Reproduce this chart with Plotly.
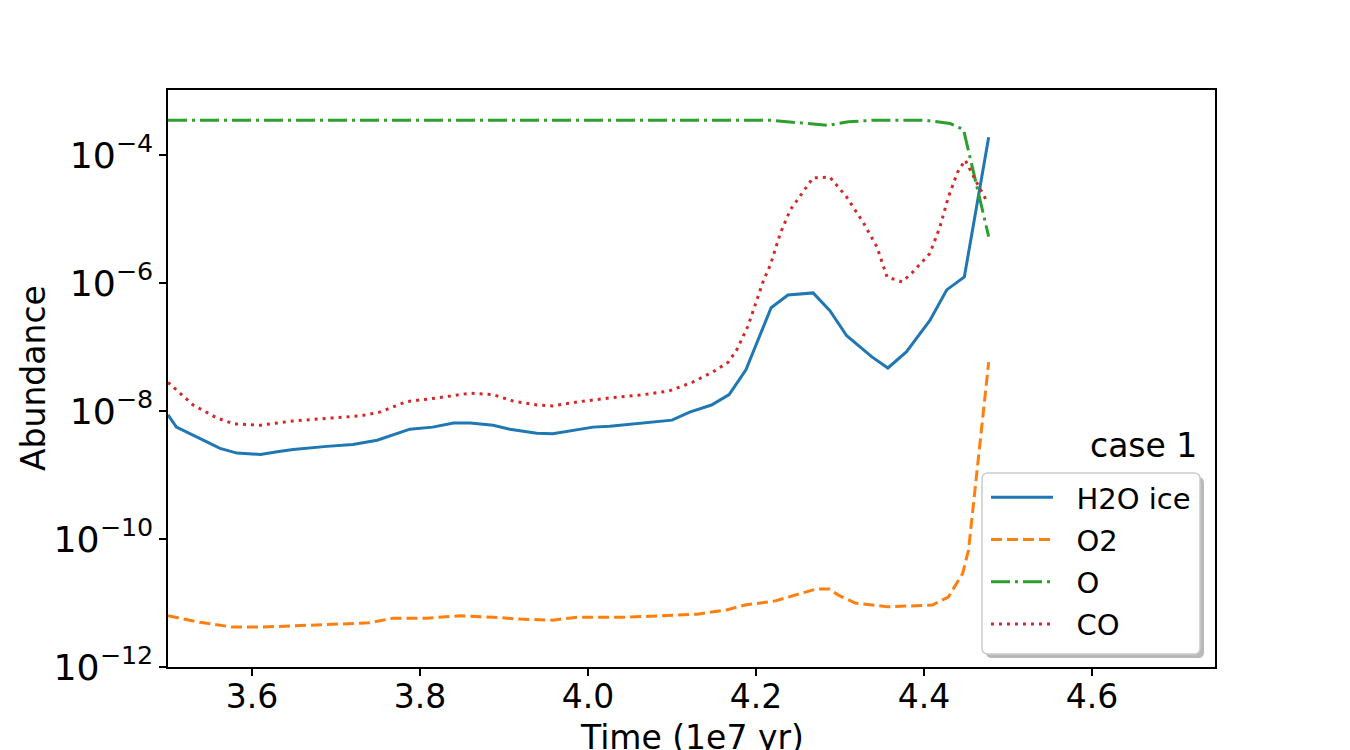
import plotly.graph_objects as go

# ---------------- data ----------------
t_h2o = [3.500, 3.510, 3.542, 3.562, 3.582, 3.610, 3.630, 3.649, 3.689, 3.720,
         3.749, 3.788, 3.815, 3.840, 3.860, 3.887, 3.907, 3.939, 3.958, 3.982,
         4.006, 4.026, 4.060, 4.100, 4.121, 4.147, 4.168, 4.188, 4.218, 4.238,
         4.268, 4.288, 4.308, 4.338, 4.357, 4.379, 4.407, 4.427, 4.448, 4.477]
h2o_ice = [8.7e-9, 5.6e-9, 3.5e-9, 2.6e-9, 2.2e-9, 2.1e-9, 2.3e-9, 2.5e-9, 2.8e-9, 3.0e-9,
           3.5e-9, 5.2e-9, 5.6e-9, 6.5e-9, 6.5e-9, 6.0e-9, 5.2e-9, 4.5e-9, 4.4e-9, 4.9e-9,
           5.6e-9, 5.8e-9, 6.4e-9, 7.2e-9, 9.6e-9, 1.24e-8, 1.8e-8, 4.4e-8, 4.1e-7, 6.5e-7,
           7.0e-7, 3.7e-7, 1.5e-7, 7.0e-8, 4.7e-8, 8.4e-8, 2.6e-7, 7.8e-7, 1.24e-6, 1.9e-4]

t_o2 = [3.500, 3.538, 3.577, 3.610, 3.669, 3.740, 3.768, 3.808, 3.848, 3.887,
        3.919, 3.958, 3.987, 4.046, 4.086, 4.130, 4.165, 4.187, 4.222, 4.248,
        4.272, 4.287, 4.298, 4.318, 4.357, 4.410, 4.429, 4.446, 4.453, 4.477]
o2 = [6.3e-12, 5.0e-12, 4.2e-12, 4.2e-12, 4.5e-12, 4.9e-12, 5.8e-12, 5.8e-12, 6.3e-12, 6.0e-12,
      5.6e-12, 5.4e-12, 6.0e-12, 6.0e-12, 6.3e-12, 6.7e-12, 7.8e-12, 9.3e-12, 1.07e-11, 1.33e-11,
      1.66e-11, 1.66e-11, 1.33e-11, 1.0e-11, 8.7e-12, 9.3e-12, 1.24e-11, 2.9e-11, 6.7e-11, 5.8e-8]

t_o = [3.50, 3.60, 3.70, 3.80, 3.90, 4.00, 4.10, 4.20, 4.217, 4.250,
       4.285, 4.310, 4.340, 4.401, 4.431, 4.447, 4.477]
o = [3.5e-4, 3.5e-4, 3.5e-4, 3.5e-4, 3.5e-4, 3.5e-4, 3.5e-4, 3.5e-4, 3.5e-4, 3.2e-4,
     2.9e-4, 3.3e-4, 3.5e-4, 3.5e-4, 3.1e-4, 2.5e-4, 5.3e-6]

t_co = [3.500, 3.530, 3.558, 3.578, 3.610, 3.649, 3.696, 3.729, 3.752, 3.784,
        3.820, 3.860, 3.887, 3.911, 3.939, 3.958, 3.990, 4.026, 4.066, 4.096,
        4.124, 4.149, 4.167, 4.177, 4.190, 4.199, 4.209, 4.217, 4.229, 4.241,
        4.252, 4.268, 4.288, 4.308, 4.328, 4.344, 4.356, 4.374, 4.387, 4.407,
        4.419, 4.429, 4.440, 4.449, 4.463, 4.476]
co = [2.8e-8, 1.24e-8, 7.8e-9, 6.3e-9, 6.0e-9, 7.0e-9, 7.8e-9, 8.4e-9, 9.6e-9, 1.4e-8,
      1.6e-8, 1.9e-8, 1.8e-8, 1.43e-8, 1.24e-8, 1.2e-8, 1.4e-8, 1.6e-8, 1.8e-8, 2.05e-8,
      2.8e-8, 4.1e-8, 5.8e-8, 9.0e-8, 2.05e-7, 4.5e-7, 1.1e-6, 1.9e-6, 6.0e-6, 1.4e-5,
      2.2e-5, 4.4e-5, 4.5e-5, 2.2e-5, 8.66e-6, 3.65e-6, 1.24e-6, 1.04e-6, 1.5e-6, 2.9e-6,
      7.5e-6, 2.2e-5, 5.4e-5, 8.35e-5, 3.65e-5, 1.78e-5]

series_names = ["H2O ice", "O2", "O", "CO"]
x_ticks = [3.6, 3.8, 4.0, 4.2, 4.4, 4.6]
x_tick_labels = ["3.6", "3.8", "4.0", "4.2", "4.4", "4.6"]
x_title = "Time (1e7 yr)"
y_title = "Abundance"
annot_text = "case 1"

# ---------------- styles ----------------
FONT = "DejaVu Sans"
colors = ["#1f77b4", "#ff7f0e", "#2ca02c", "#d62728"]
dashes = ["solid", "11px,5px", "19px,5px,3px,5px", "3px,5px"]
LW = 3
NBSP = "\u00a0\u00a0"

W, H = 1350, 750
L, R, T, B = 168, 135, 90, 83
PW, PH = W - L - R, H - T - B


def px_x(p):
    return (p - L) / PW


def px_y(p):
    return (H - B - p) / PH


fig = go.Figure()
data = [(t_h2o, h2o_ice), (t_o2, o2), (t_o, o), (t_co, co)]
for i, (tx, vy) in enumerate(data):
    fig.add_trace(go.Scatter(
        x=tx, y=vy, mode="lines", name=NBSP + series_names[i],
        legendgroup=series_names[i],
        line=dict(color=colors[i], width=LW, dash=dashes[i]),
    ))

# legend frame (rounded, with shadow) like matplotlib's fancybox+shadow
def rounded_path(x0, y0, x1, y1, r=6):
    rx, ry = r / PW, r / PH
    X0, X1 = px_x(x0), px_x(x1)
    Y0, Y1 = px_y(y1), px_y(y0)  # bottom, top in paper
    return (f"M{X0+rx},{Y0} L{X1-rx},{Y0} Q{X1},{Y0} {X1},{Y0+ry} "
            f"L{X1},{Y1-ry} Q{X1},{Y1} {X1-rx},{Y1} L{X0+rx},{Y1} "
            f"Q{X0},{Y1} {X0},{Y1-ry} L{X0},{Y0+ry} Q{X0},{Y0} {X0+rx},{Y0} Z")

fig.add_shape(type="path", xref="paper", yref="paper",
              path=rounded_path(986, 477, 1204, 658),
              fillcolor="rgba(128,128,128,0.55)", line=dict(width=0), layer="above")
fig.add_shape(type="path", xref="paper", yref="paper",
              path=rounded_path(982, 473, 1200, 654),
              fillcolor="white", line=dict(color="#cccccc", width=1.5), layer="above")

fig.update_layout(
    width=W, height=H,
    margin=dict(l=L, r=R, t=T, b=B, pad=0),
    paper_bgcolor="white", plot_bgcolor="white",
    font=dict(family=FONT, color="black", size=33),
    showlegend=True,
    legend=dict(
        x=px_x(986), y=px_y(472), xanchor="left", yanchor="top",
        bgcolor="rgba(0,0,0,0)", borderwidth=0,
        font=dict(family=FONT, size=29, color="black"),
        itemwidth=62, tracegroupgap=1.5, traceorder="grouped",
    ),
    xaxis=dict(
        range=[3.5, 3.5 + PW / 840], tickmode="array", tickvals=x_ticks,
        ticktext=x_tick_labels, showgrid=False, zeroline=False,
        showline=True, linecolor="black", linewidth=2, mirror=True,
        ticks="outside", ticklen=7, tickwidth=2, tickcolor="black",
        tickfont=dict(family=FONT, size=33), ticklabelstandoff=-8,
    ),
    yaxis=dict(
        type="log", range=[-12, -4 + (155 - T) / 64], dtick=2,
        exponentformat="power", showgrid=False, zeroline=False,
        showline=True, linecolor="black", linewidth=2, mirror=True,
        ticks="outside", ticklen=7, tickwidth=2, tickcolor="black",
        tickfont=dict(family=FONT, size=29),
    ),
    annotations=[
        dict(text=annot_text, xref="paper", yref="paper", x=px_x(1199), y=px_y(445),
             xanchor="right", yanchor="middle", showarrow=False,
             font=dict(family=FONT, size=33, color="black")),
        dict(text=y_title, xref="paper", yref="paper", x=px_x(33), y=px_y(378),
             xanchor="center", yanchor="middle", textangle=-90, showarrow=False,
             font=dict(family=FONT, size=33, color="black")),
        dict(text=x_title, xref="paper", yref="paper", x=px_x(692), y=px_y(737),
             xanchor="center", yanchor="middle", showarrow=False,
             font=dict(family=FONT, size=33, color="black")),
    ],
)

fig.write_html("out.html")
